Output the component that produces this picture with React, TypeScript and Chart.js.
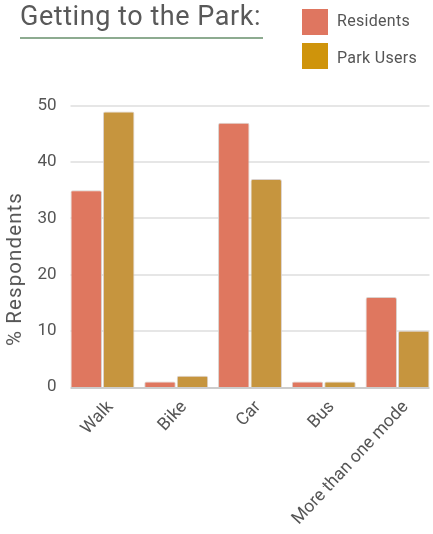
import React, { useEffect, useRef } from "react";
import { Chart, registerables } from "chart.js";

Chart.register(...registerables);

const categories = ["Walk", "Bike", "Car", "Bus", "More than one mode"];
const residents = [35, 1, 47, 1, 16];
const parkUsers = [49, 2, 37, 1, 10];
const seriesNames = ["Residents", "Park Users"];
const yMin = 0;
const yMax = 50;
const yStep = 10;

const FONT = "Roboto, 'Liberation Sans', sans-serif";
const TEXT = "#555555";
const RES_BAR = "#df775f";
const PARK_BAR = "#c6953e";
const RES_KEY = "#df7660";
const PARK_KEY = "#cf940b";

const gridPlugin = {
  id: "customGrid",
  beforeDatasetsDraw(chart: any) {
    const ctx = chart.ctx;
    const y = chart.scales.y;
    const m0 = chart.getDatasetMeta(0).data;
    const m1 = chart.getDatasetMeta(1).data;
    const first = m0[0];
    const last = m1[m1.length - 1];
    const left = first.x - first.width / 2;
    const right = last.x + last.width / 2;
    ctx.save();
    y.ticks.forEach((t: any) => {
      if (t.value === 0) return;
      const py = Math.round(y.getPixelForValue(t.value));
      ctx.strokeStyle = "#e6e6e6";
      ctx.lineWidth = 2;
      ctx.beginPath();
      ctx.moveTo(left, py);
      ctx.lineTo(right, py);
      ctx.stroke();
    });
    ctx.restore();
  },
  afterDatasetsDraw(chart: any) {
    const ctx = chart.ctx;
    const y = chart.scales.y;
    const m0 = chart.getDatasetMeta(0).data;
    const m1 = chart.getDatasetMeta(1).data;
    const first = m0[0];
    const last = m1[m1.length - 1];
    const left = first.x - first.width / 2;
    const right = last.x + last.width / 2;
    const py = Math.round(y.getPixelForValue(0)) + 1;
    ctx.save();
    ctx.strokeStyle = "#cccccc";
    ctx.lineWidth = 2;
    ctx.beginPath();
    ctx.moveTo(left, py);
    ctx.lineTo(right, py);
    ctx.stroke();
    ctx.restore();
  },
};

export default function App() {
  const ref = useRef<HTMLCanvasElement | null>(null);

  useEffect(() => {
    if (!ref.current) return;
    const chart = new Chart(ref.current, {
      type: "bar",
      data: {
        labels: categories,
        datasets: [
          {
            label: seriesNames[0],
            data: residents,
            backgroundColor: RES_BAR,
            borderColor: "rgba(215,205,200,0.9)",
            borderWidth: 1,
            borderRadius: 2,
            borderSkipped: "bottom",
          },
          {
            label: seriesNames[1],
            data: parkUsers,
            backgroundColor: PARK_BAR,
            borderColor: "rgba(215,205,200,0.9)",
            borderWidth: 1,
            borderRadius: 2,
            borderSkipped: "bottom",
          },
        ],
      },
      options: {
        responsive: false,
        animation: false,
        maintainAspectRatio: false,
        layout: { padding: { top: 106, right: 5.6, bottom: 0, left: 0 } },
        plugins: {
          legend: { display: false },
          tooltip: { enabled: false },
          title: { display: false },
        },
        datasets: {
          bar: { categoryPercentage: 0.88, barPercentage: 0.97 },
        },
        scales: {
          x: {
            offset: true,
            grid: { display: false, drawTicks: false },
            border: { display: false },
            ticks: {
              color: TEXT,
              font: { family: FONT, size: 17.5 },
              maxRotation: 47,
              minRotation: 47,
              autoSkip: false,
              padding: 10,
              labelOffset: 8,
            },
            afterFit: (s: any) => {
              s.height = 147;
            },
          },
          y: {
            min: yMin,
            max: yMax,
            grid: { display: false, drawTicks: false },
            border: { display: false },
            ticks: {
              stepSize: yStep,
              color: TEXT,
              font: { family: FONT, size: 17 },
              padding: 9,
            },
            afterFit: (s: any) => {
              s.width = 65.6;
            },
          },
        },
      },
      plugins: [gridPlugin],
    } as any);
    return () => chart.destroy();
  }, []);

  return (
    <div
      style={{
        position: "absolute",
        left: 0,
        top: 0,
        width: 433,
        height: 534,
        overflow: "hidden",
        background: "#ffffff",
        fontFamily: FONT,
        color: TEXT,
      }}
    >
      <canvas ref={ref} width={440} height={534} style={{ position: "absolute", left: 0, top: 0 }} />
      <div
        style={{
          position: "absolute",
          left: 20,
          top: 3,
          fontSize: 27,
          lineHeight: "27px",
          letterSpacing: "0.55px",
          whiteSpace: "nowrap",
          color: "#595959",
        }}
      >
        Getting to the Park:
      </div>
      <div style={{ position: "absolute", left: 20, top: 37, width: 243, height: 2, background: "#8dab90" }} />
      <div style={{ position: "absolute", left: 302, top: 9, width: 26, height: 26, background: RES_KEY }} />
      <div style={{ position: "absolute", left: 302, top: 43, width: 26, height: 26, background: PARK_KEY }} />
      <div style={{ position: "absolute", left: 337, top: 12, fontSize: 16, lineHeight: "18px", letterSpacing: "0.3px", whiteSpace: "nowrap" }}>
        {seriesNames[0]}
      </div>
      <div style={{ position: "absolute", left: 337, top: 49, fontSize: 16, lineHeight: "18px", letterSpacing: "0.3px", whiteSpace: "nowrap" }}>
        {seriesNames[1]}
      </div>
      <div
        style={{
          position: "absolute",
          left: 13.5,
          top: 268.5,
          transform: "translate(-50%, -50%) rotate(-90deg)",
          fontSize: 20.5,
          lineHeight: "22px",
          letterSpacing: "1.1px",
          whiteSpace: "nowrap",
        }}
      >
        % Respondents
      </div>
    </div>
  );
}
